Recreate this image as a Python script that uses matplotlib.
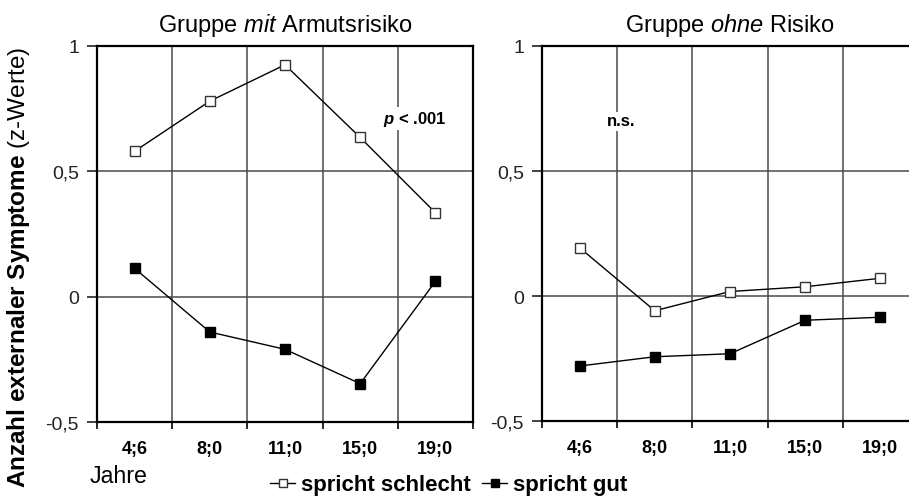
import matplotlib
matplotlib.use("Agg")
import matplotlib.pyplot as plt
import numpy as np

plt.rcParams['font.family'] = ['Liberation Sans', 'DejaVu Sans']
plt.rcParams['mathtext.fontset'] = 'custom'
plt.rcParams['mathtext.rm'] = 'Liberation Sans'
plt.rcParams['mathtext.it'] = 'Liberation Sans:italic'
plt.rcParams['mathtext.bf'] = 'Liberation Sans:bold'
plt.rcParams['mathtext.bfit'] = 'Liberation Sans:italic:bold'

categories = ["4;6", "8;0", "11;0", "15;0", "19;0"]
risk_schlecht = [0.58, 0.78, 0.925, 0.635, 0.335]
risk_gut = [0.113, -0.141, -0.21, -0.347, 0.061]
norisk_schlecht = [0.193, -0.059, 0.018, 0.037, 0.071]
norisk_gut = [-0.28, -0.243, -0.231, -0.097, -0.085]

titles = ["Gruppe $\\mathit{mit}$ Armutsrisiko", "Gruppe $\\mathit{ohne}$ Risiko"]
yticks = [-0.5, 0, 0.5, 1]
ytick_labels = ["-0,5", "0", "0,5", "1"]
label_schlecht = "spricht schlecht"
label_gut = "spricht gut"

fig = plt.figure(figsize=(9.09, 5.02), dpi=100)
W, H = 909, 502

def px_axes(x0, y0, x1, y1):
    return fig.add_axes([x0 / W, 1 - y1 / H, (x1 - x0) / W, (y1 - y0) / H])

ax1 = px_axes(97, 47, 473, 423)
ax2 = px_axes(542, 47, 918, 422)

xpos = np.arange(len(categories)) + 0.5
handles = None
for ax, s, g, title in [(ax1, risk_schlecht, risk_gut, titles[0]),
                        (ax2, norisk_schlecht, norisk_gut, titles[1])]:
    ax.set_xlim(0, len(categories))
    ax.set_ylim(-0.5, 1)
    for xv in range(1, len(categories)):
        ax.axvline(xv, color='#4a4a4a', lw=1.1, zorder=1)
    for yv in [0, 0.5]:
        ax.axhline(yv, color='#4a4a4a', lw=1.1, zorder=1)
    h1, = ax.plot(xpos, s, color='black', lw=1.0, marker='s', markersize=6.5,
                  markerfacecolor='white', markeredgecolor='#333333', markeredgewidth=1.0,
                  label=label_schlecht, zorder=3)
    h2, = ax.plot(xpos, g, color='black', lw=1.0, marker='s', markersize=6.5,
                  markerfacecolor='black', markeredgecolor='black',
                  label=label_gut, zorder=3)
    if handles is None:
        handles = [h1, h2]
    for sp in ax.spines.values():
        sp.set_linewidth(1.6)
        sp.set_color('black')
    ax.set_yticks(yticks)
    ax.set_yticklabels(ytick_labels, fontsize=14)
    ax.tick_params(axis='y', direction='out', length=7, width=1.2, pad=6, colors='#222222')
    ax.set_xticks(range(0, len(categories) + 1))
    ax.set_xticklabels([])
    ax.tick_params(axis='x', which='major', direction='out', length=5, width=1.2)
    ax.set_xticks(xpos, minor=True)
    ax.set_xticklabels(categories, minor=True, fontsize=13, fontweight='bold')
    ax.tick_params(axis='x', which='minor', length=0, pad=13)
    ax.set_title(title, fontsize=17, pad=11)

ax1.text(4.22, 0.71, "$\\mathbfit{p}$ < .001", fontsize=12, fontweight='bold',
         ha='center', va='center', zorder=4,
         bbox=dict(facecolor='white', edgecolor='none', pad=1.5))
ax2.text(1.05, 0.70, "n.s.", fontsize=12, fontweight='bold', ha='center', va='center', zorder=4,
         bbox=dict(facecolor='white', edgecolor='none', pad=1.5))

fig.text(19 / W, 1 - 267 / H, "$\\mathbf{Anzahl\\ externaler\\ Symptome}$ (z-Werte)",
         rotation=90, ha='center', va='center', fontsize=17.5)
fig.text(119 / W, 1 - 477 / H, "Jahre", ha='center', va='center', fontsize=16.7)

fig.legend(handles=handles, loc='center', bbox_to_anchor=(449 / W, 1 - 486 / H), ncol=2,
           frameon=False, prop={'weight': 'bold', 'size': 16}, handlelength=1.1,
           markerscale=0.8, handletextpad=0.3, columnspacing=0.5, borderpad=0)

fig.savefig("out.png", dpi=100)
